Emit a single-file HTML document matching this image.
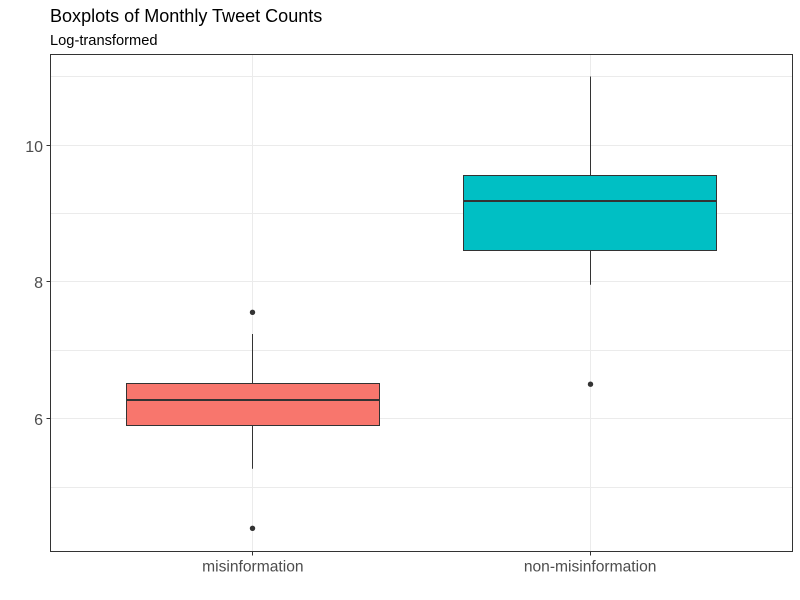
<!DOCTYPE html>
<html>
<head>
<meta charset="utf-8">
<title>Boxplots of Monthly Tweet Counts</title>
<style>
html,body{margin:0;padding:0;background:#fff;width:800px;height:600px;overflow:hidden}
svg{display:block}
text{font-family:"Liberation Sans",Arial,sans-serif}
</style>
</head>
<body>
<svg id="chart" width="800" height="600" viewBox="0 0 800 600" xmlns="http://www.w3.org/2000/svg">
<rect width="800" height="600" fill="#fff"/>
<text x="50" y="22" font-size="18.05" fill="#000">Boxplots of Monthly Tweet Counts</text>
<text x="50" y="45" font-size="14.67" fill="#000">Log-transformed</text>
<g id="plot"></g>
</svg>
<script>
const categories = ['misinformation', 'non-misinformation'];
const lowerWhisker = [5.271, 7.96];
const lowerQuartile = [5.906, 8.466];
const medians = [6.279, 9.182];
const upperQuartile = [6.519, 9.558];
const upperWhisker = [7.239, 11.001];
const outliers = [[7.556, 4.401], [6.506]];
const yTicks = [6, 8, 10];
const yMinorTicks = [5, 7, 9, 11];
const fills = ['#F8766D', '#00BFC4'];

const panel = {left: 50.5, right: 792.5, top: 54.5, bottom: 551.5};
const NS = 'http://www.w3.org/2000/svg';
const plot = document.getElementById('plot');

function yScale(v) { return 145.05 + (10 - v) * 68.45; }
function xScale(i) { return panel.left + (i + 0.6) * (panel.right - panel.left) / 2.2; }
function snap(p) { return Math.floor(p) + 0.5; }
const boxHalf = 0.375 * (panel.right - panel.left) / 2.2;

function make(tag, attrs, parent) {
  const el = document.createElementNS(NS, tag);
  for (const k in attrs) el.setAttribute(k, attrs[k]);
  (parent || plot).appendChild(el);
  return el;
}

yMinorTicks.forEach(function (v) {
  const el = make('line', {x1: panel.left, x2: panel.right, y1: snap(yScale(v)), y2: snap(yScale(v)), stroke: '#ebebeb', 'stroke-width': 1});
  
  
});
yTicks.forEach(function (v) {
  const el = make('line', {x1: panel.left, x2: panel.right, y1: snap(yScale(v)), y2: snap(yScale(v)), stroke: '#ebebeb', 'stroke-width': 1});
  
  
});
categories.forEach(function (c, i) {
  const el = make('line', {x1: snap(xScale(i)), x2: snap(xScale(i)), y1: panel.top, y2: panel.bottom, stroke: '#ebebeb', 'stroke-width': 1});
  
  
});

categories.forEach(function (c, i) {
  const x = snap(xScale(i));
  const stroke = '#333333';
  const upper = make('line', {x1: x, x2: x, y1: yScale(upperWhisker[i]), y2: yScale(upperQuartile[i]), stroke: stroke, 'stroke-width': 1});
  
  
  const lower = make('line', {x1: x, x2: x, y1: yScale(lowerQuartile[i]), y2: yScale(lowerWhisker[i]), stroke: stroke, 'stroke-width': 1});
  
  
  const bx = snap(xScale(i) - boxHalf);
  const bw = snap(xScale(i) + boxHalf) - bx;
  const by = snap(yScale(upperQuartile[i]));
  const bh = snap(yScale(lowerQuartile[i])) - by;
  const box = make('rect', {x: bx, width: bw, y: by, height: bh, fill: fills[i], stroke: stroke, 'stroke-width': 1});
  
  
  const my = Math.round(yScale(medians[i]));
  const med = make('line', {x1: bx, x2: bx + bw, y1: my, y2: my, stroke: stroke, 'stroke-width': 2});
  
  
  outliers[i].forEach(function (v) {
    const pt = make('circle', {cx: x, cy: yScale(v), r: 2.7, fill: stroke});
    
    
  });
});

const border = make('rect', {x: panel.left, y: panel.top, width: panel.right - panel.left, height: panel.bottom - panel.top, fill: 'none', stroke: '#333333', 'stroke-width': 1});



yTicks.forEach(function (v) {
  const ty = snap(yScale(v));
  const tick = make('line', {x1: panel.left - 4, x2: panel.left, y1: ty, y2: ty, stroke: '#333333', 'stroke-width': 1});
  
  
  const label = make('text', {x: panel.left - 7.5, y: ty + 6.5, 'text-anchor': 'end', 'font-size': 16, fill: '#4d4d4d'});
  label.textContent = String(v);
  
  
});
categories.forEach(function (c, i) {
  const tx = snap(xScale(i));
  const tick = make('line', {x1: tx, x2: tx, y1: panel.bottom, y2: panel.bottom + 4, stroke: '#333333', 'stroke-width': 1});
  
  
  const label = make('text', {x: xScale(i), y: 571.5, 'text-anchor': 'middle', 'font-size': 15.6, fill: '#4d4d4d'});
  label.textContent = c;
  
  
});
</script>
</body>
</html>
